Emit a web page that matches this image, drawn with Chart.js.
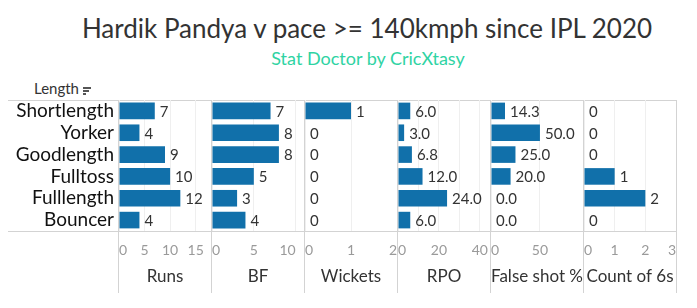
<!DOCTYPE html>
<html>
<head>
<meta charset="utf-8">
<script src="https://cdn.jsdelivr.net/npm/chart.js@4.4.0/dist/chart.umd.min.js"></script>
<style>
body { margin: 0; width: 697px; height: 308px; background: #fff; position: relative; overflow: hidden; font-family: Lato, sans-serif; }
.title { position: absolute; left: 0; width: 734px; top: 12px; text-align: center; font-size: 26px; color: #333; }
.subtitle { position: absolute; left: 0; width: 736px; top: 47px; text-align: center; font-size: 18px; color: #2fd3a3; }
.header { position: absolute; left: 34px; top: 79px; font-size: 15px; color: #333; }
.sort { display: inline-block; width: 9px; height: 8px; position: relative; margin-left: 4px; }
.sort i { position: absolute; left: 0; height: 2px; background: #555; }
.line { position: absolute; background: #d3d3d3; }
canvas { position: absolute; top: 100px; }
</style>
</head>
<body>
<div class="title">Hardik Pandya v pace &gt;= 140kmph since IPL 2020</div>
<div class="subtitle">Stat Doctor by CricXtasy</div>
<div class="header">Length<span class="sort"><i style="top:1px;width:8px"></i><i style="top:4px;width:6px"></i><i style="top:7px;width:3px"></i></span></div>
<div id="frame"></div>

<script>
const lengths = ['Shortlength', 'Yorker', 'Goodlength', 'Fulltoss', 'Fulllength', 'Bouncer'];
const runs = [7, 4, 9, 10, 12, 4];
const balls = [7, 8, 8, 5, 3, 4];
const wickets = [1, 0, 0, 0, 0, 0];
const rpo = [6.0, 3.0, 6.8, 12.0, 24.0, 6.0];
const falseShot = [14.3, 50.0, 25.0, 20.0, 0.0, 0.0];
const sixes = [0, 0, 0, 1, 2, 0];

const measures = ['Runs', 'BF', 'Wickets', 'RPO', 'False shot %', 'Count of 6s'];
const series = [runs, balls, wickets, rpo, falseShot, sixes];
const axisMax = [18, 11, 2, 45, 94, 3];
const tickValues = [[0, 5, 10, 15], [0, 5, 10], [0, 1, 2], [0, 10, 20, 30, 40], [0, 50], [0, 1, 2, 3]];
const tickLabelEvery = [5, 5, 1, 20, 50, 1];
const centerLastLabel = [true, false, false, true, true, false];
const decimals = [0, 0, 0, 1, 1, 0];

const BLUE = '#1170aa';
const PANEL_W = 93;
const FIRST = 118;

// frame lines (the Tableau pane borders)
const frame = document.getElementById('frame');
function addLine(x, y, w, h) {
	const d = document.createElement('div');
	d.className = 'line';
	d.style.cssText = `left:${x}px;top:${y}px;width:${w}px;height:${h}px`;
	frame.appendChild(d);
}
addLine(8, 100, 669, 1);
addLine(8, 231, 669, 1);
for (let i = 0; i <= measures.length; i++) {
	addLine(FIRST + PANEL_W * i, 100, 1, 193);
}

const valueLabels = {
	id: 'valueLabels',
	afterDatasetsDraw(chart, args, opts) {
		const ctx = chart.ctx;
		const meta = chart.getDatasetMeta(0);
		const data = chart.data.datasets[0].data;
		ctx.save();
		ctx.font = '15px Lato';
		ctx.fillStyle = '#333';
		ctx.textAlign = 'left';
		ctx.textBaseline = 'middle';
		meta.data.forEach((bar, i) => {
			ctx.fillText(data[i].toFixed(opts.decimals), bar.x + 5, bar.y + 1);
		});
		ctx.restore();
	}
};

measures.forEach((name, i) => {
	const first = i === 0;
	const canvas = document.createElement('canvas');
	const left = first ? 0 : FIRST + 1 + PANEL_W * i;
	const width = first ? FIRST + PANEL_W : PANEL_W - 1;
	canvas.width = width;
	canvas.height = 193;
	canvas.style.left = left + 'px';
	document.body.appendChild(canvas);

	const max = axisMax[i];

	const yAxis = {
		display: first,
		border: { display: false },
		grid: { display: false, drawTicks: false },
		ticks: {
			autoSkip: false,
			padding: 5,
			color: '#111',
			font: { family: 'Lato', size: 19 }
		}
	};
	if (first) {
		yAxis.afterFit = (scale) => {
			scale.width = FIRST + 1;
			scale.paddingTop = 0;
			scale.paddingBottom = 0;
		};
	}

	new Chart(canvas.getContext('2d'), {
		type: 'bar',
		data: {
			labels: lengths,
			datasets: [{
				data: series[i],
				backgroundColor: BLUE,
				borderWidth: 0,
				barPercentage: 0.76,
				categoryPercentage: 1
			}]
		},
		plugins: [valueLabels],
		options: {
			indexAxis: 'y',
			responsive: false,
			animation: false,
			devicePixelRatio: 1,
			layout: { padding: 0 },
			plugins: {
				legend: { display: false },
				tooltip: { enabled: false },
				valueLabels: { decimals: decimals[i] }
			},
			scales: {
				x: {
					min: 0,
					max: max,
					border: { display: false },
					grid: {
						color: (c) => (c.tick && c.tick.value === max) ? 'rgba(0,0,0,0)' : '#efefef',
						drawTicks: false
					},
					ticks: {
						align: 'inner',
						padding: 11,
						color: '#9a9a9a',
						font: { family: 'Lato', size: 14 },
						maxRotation: 0,
						autoSkip: false,
						callback: (v) => (v % tickLabelEvery[i] === 0 && v !== max) || (v === max && !centerLastLabel[i]) ? v : ''
					},
					afterBuildTicks(scale) {
						const vals = tickValues[i].slice();
						if (centerLastLabel[i]) vals.push(max);
						scale.ticks = vals.map(v => ({ value: v }));
					},
					title: {
						display: true,
						text: name,
						color: '#333',
						font: { family: 'Lato', size: 17 },
						padding: { top: 0, bottom: 6 }
					},
					afterFit(scale) {
						scale.height = 62;
						scale.paddingLeft = 0;
						scale.paddingRight = 0;
					}
				},
				y: yAxis
			}
		}
	});
});
</script>
</body>
</html>
